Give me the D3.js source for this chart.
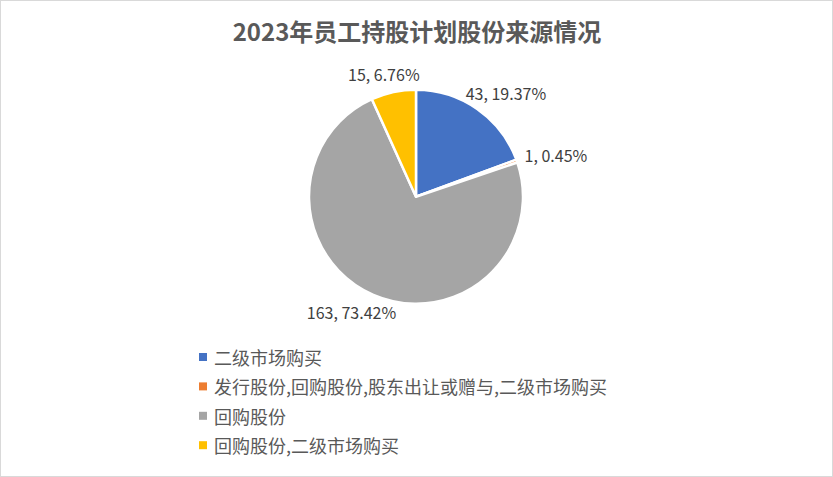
<!DOCTYPE html>
<html>
<head>
<meta charset="utf-8">
<script src="https://cdn.jsdelivr.net/npm/d3@7"></script>
<style>
  html, body { margin: 0; padding: 0; background: #fff; }
  svg { display: block; font-family: "DengXian", "Microsoft YaHei", "Noto Sans CJK SC", sans-serif; }
</style>
</head>
<body>
<svg id="chart" width="833" height="477"></svg>
<script>
// data
const categories = ["二级市场购买", "发行股份,回购股份,股东出让或赠与,二级市场购买", "回购股份", "回购股份,二级市场购买"];
const counts = [43, 1, 163, 15];
const percents = ["19.37%", "0.45%", "73.42%", "6.76%"];
const colors = ["#4472C4", "#ED7D31", "#A5A5A5", "#FFC000"];
const title = "2023年员工持股计划股份来源情况";

const W = 833, H = 477;
const cx = 416, cy = 196.7, r = 107;

const svg = d3.select("#chart");

// chart frame
svg.append("rect")
  .attr("x", 0.5).attr("y", 0.5)
  .attr("width", W - 1).attr("height", H - 1)
  .attr("fill", "#fff")
  .attr("stroke", "#d9d9d9");

svg.append("text")
  .attr("x", cx + 1).attr("y", 41)
  .attr("text-anchor", "middle")
  .attr("font-size", 24)
  .attr("font-weight", "bold")
  .attr("fill", "#595959")
  .text(title);

const items = categories.map((c, i) => ({ name: c, value: counts[i], pct: percents[i], color: colors[i] }));

const pie = d3.pie().value(d => d.value).sort(null);
const arc = d3.arc().innerRadius(0).outerRadius(r);
const arcs = pie(items);

const g = svg.append("g").attr("transform", `translate(${cx},${cy})`);

g.selectAll("path.slice")
  .data(arcs)
  .join("path")
  .attr("class", "slice")
  .attr("d", arc)
  .attr("fill", d => d.data.color)
  .attr("stroke", "#fff")
  .attr("stroke-width", 2.5)
  .attr("stroke-linejoin", "round");

// data labels: put the box next to a point just outside the rim
const labels = g.selectAll("text.lbl")
  .data(arcs)
  .join("text")
  .attr("class", "lbl")
  .attr("font-size", 16)
  .attr("fill", "#404040")
  .attr("text-anchor", "middle")
  .attr("dominant-baseline", "central")
  .text(d => d.data.value + ", " + d.data.pct);

labels.each(function(d) {
  const a = (d.startAngle + d.endAngle) / 2;
  const w = this.getComputedTextLength();
  const rr = r + 10;
  const x = Math.sin(a) * rr + Math.sin(a) * w / 2;
  const y = -Math.cos(a) * rr - Math.cos(a) * 9;
  d3.select(this).attr("x", x).attr("y", y);
});

// legend
const legend = svg.append("g").attr("transform", "translate(199,357)");
const rowH = 29.4;

legend.selectAll("rect")
  .data(items)
  .join("rect")
  .attr("x", 0)
  .attr("y", (d, i) => i * rowH - 4)
  .attr("width", 8).attr("height", 8)
  .attr("fill", d => d.color);

legend.selectAll("text")
  .data(items)
  .join("text")
  .attr("x", 15)
  .attr("y", (d, i) => i * rowH)
  .attr("dominant-baseline", "central")
  .attr("font-size", 18)
  .attr("fill", "#595959")
  .text(d => d.name);
</script>
</body>
</html>
